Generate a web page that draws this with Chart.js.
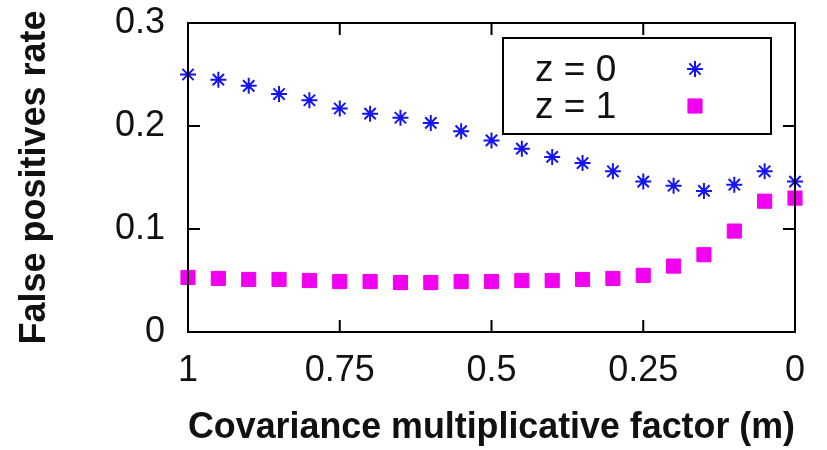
<!DOCTYPE html>
<html>
<head>
<meta charset="utf-8">
<script src="https://cdn.jsdelivr.net/npm/chart.js@4"></script>
<style>
  html, body { margin: 0; padding: 0; background: #fff; }
  #wrap { width: 827px; height: 450px; position: relative; }
</style>
</head>
<body>
<div id="wrap"><canvas id="c" width="827" height="450"></canvas></div>
<script>
// ---- data ----
const mValues = [1, 0.95, 0.9, 0.85, 0.8, 0.75, 0.7, 0.65, 0.6, 0.55, 0.5,
                 0.45, 0.4, 0.35, 0.3, 0.25, 0.2, 0.15, 0.1, 0.05, 0];
const fprZ0 = [0.250, 0.245, 0.239, 0.231, 0.225, 0.217, 0.212, 0.208, 0.203, 0.195, 0.186,
               0.178, 0.170, 0.164, 0.156, 0.146, 0.142, 0.137, 0.143, 0.156, 0.146];
const fprZ1 = [0.053, 0.052, 0.051, 0.051, 0.050, 0.049, 0.049, 0.048, 0.048, 0.049, 0.049,
               0.050, 0.050, 0.051, 0.052, 0.055, 0.064, 0.075, 0.098, 0.127, 0.130];
const seriesLabels = ['z = 0', 'z = 1'];
const xTitle = 'Covariance multiplicative factor (m)';
const yTitle = 'False positives rate';

const FONT = "'Liberation Sans', Arial, Helvetica, sans-serif";
const BLUE = '#1414f0';
const MAGENTA = '#f000ee';

const toPts = ys => mValues.map((x, i) => ({ x: x, y: ys[i] }));
const fmt = v => String(Math.round(v * 100) / 100);

// frame + inward mirrored ticks
const framePlugin = {
  id: 'frame',
  afterDraw(chart) {
    const { ctx, chartArea: a, scales } = chart;
    ctx.save();
    ctx.strokeStyle = '#000';
    ctx.lineWidth = 2;
    ctx.strokeRect(a.left, a.top, a.right - a.left, a.bottom - a.top);
    const tl = 12;
    ctx.beginPath();
    scales.x.ticks.forEach(t => {
      const px = scales.x.getPixelForValue(t.value);
      ctx.moveTo(px, a.bottom); ctx.lineTo(px, a.bottom - tl);
      ctx.moveTo(px, a.top); ctx.lineTo(px, a.top + tl);
    });
    scales.y.ticks.forEach(t => {
      const py = scales.y.getPixelForValue(t.value);
      ctx.moveTo(a.left, py); ctx.lineTo(a.left + tl, py);
      ctx.moveTo(a.right, py); ctx.lineTo(a.right - tl, py);
    });
    ctx.stroke();
    ctx.restore();
  }
};

// gnuplot-style legend: text left, sample marker right
const keyPlugin = {
  id: 'gkey',
  afterDatasetsDraw(chart) {
    const { ctx, chartArea: a } = chart;
    const bx = a.left + 315, by = a.top + 15, bw = 268, bh = 96;
    ctx.save();
    ctx.fillStyle = '#fff';
    ctx.fillRect(bx, by, bw, bh);
    ctx.strokeStyle = '#000';
    ctx.lineWidth = 2;
    ctx.strokeRect(bx, by, bw, bh);
    ctx.font = '37px ' + FONT;
    ctx.textBaseline = 'middle';
    ctx.textAlign = 'left';
    chart.data.datasets.forEach((ds, i) => {
      const cy = by + 31 + i * 37;
      ctx.fillStyle = '#111';
      ctx.fillText(ds.label, bx + 32, cy + 2);
      ctx.strokeStyle = ds.pointBorderColor;
      ctx.fillStyle = ds.pointBackgroundColor;
      ctx.lineWidth = ds.pointBorderWidth;
      Chart.helpers.drawPoint(ctx, {
        pointStyle: ds.pointStyle, radius: ds.pointRadius, rotation: 0,
        borderWidth: ds.pointBorderWidth
      }, bx + 192, cy);
    });
    ctx.restore();
  }
};

new Chart(document.getElementById('c'), {
  type: 'scatter',
  data: {
    datasets: [
      {
        label: seriesLabels[0],
        data: toPts(fprZ0),
        pointStyle: 'star',
        pointRadius: 8,
        pointBorderWidth: 2,
        pointBorderColor: BLUE,
        pointBackgroundColor: BLUE,
        clip: false
      },
      {
        label: seriesLabels[1],
        data: toPts(fprZ1),
        pointStyle: 'rect',
        pointRadius: 10,
        pointBorderWidth: 1,
        pointBorderColor: MAGENTA,
        pointBackgroundColor: MAGENTA,
        clip: false
      }
    ]
  },
  options: {
    responsive: false,
    animation: false,
    events: [],
    layout: { padding: { left: 0, top: 23, right: 32, bottom: 0 } },
    plugins: { legend: { display: false }, tooltip: { enabled: false } },
    scales: {
      x: {
        type: 'linear',
        reverse: true,
        min: 0, max: 1,
        border: { display: false },
        grid: { display: false, drawTicks: false },
        ticks: { stepSize: 0.25, padding: 17, color: '#111', maxRotation: 0,
                 font: { family: FONT, size: 36 }, callback: v => fmt(v) },
        title: { display: true, text: xTitle, color: '#111',
                 font: { family: FONT, size: 36, weight: 'bold', lineHeight: 1.2 },
                 padding: { top: 0, bottom: 0 } },
        afterFit(s) { s.height = 118; s.paddingLeft = 0; s.paddingRight = 0; }
      },
      y: {
        type: 'linear',
        min: 0, max: 0.3,
        border: { display: false },
        grid: { display: false, drawTicks: false },
        ticks: { stepSize: 0.1, padding: 23, color: '#111',
                 font: { family: FONT, size: 36 }, callback: v => fmt(v) },
        title: { display: true, text: yTitle, color: '#111',
                 font: { family: FONT, size: 36, weight: 'bold', lineHeight: 1.2 },
                 padding: { top: 13, bottom: 0 } },
        afterFit(s) { s.width = 188; s.paddingTop = 0; s.paddingBottom = 0; }
      }
    }
  },
  plugins: [framePlugin, keyPlugin]
});
</script>
</body>
</html>
